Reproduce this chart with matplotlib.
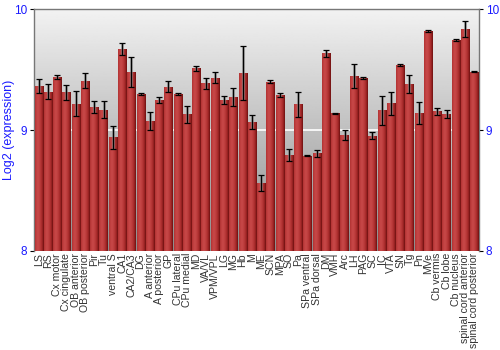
"""Bar chart of log2 expression per brain region, with error bars."""

import matplotlib
matplotlib.use("Agg")
import matplotlib.pyplot as plt
from matplotlib.colors import LinearSegmentedColormap
import numpy as np

plt.rcParams["font.family"] = ["Liberation Sans", "DejaVu Sans"]

regions = [
    "LS", "RS", "Cx motor", "Cx cingulate", "OB anterior", "OB posterior",
    "Pir", "Tu", "ventral S", "CA1", "CA2/CA3", "DG", "A anterior",
    "A posterior", "GP", "CPu lateral", "CPu medial", "MD", "VA/VL",
    "VPM/VPL", "LG", "MG", "Hb", "M", "ME", "SCN", "MPA", "SO", "Pa",
    "SPa ventral", "SPa dorsal", "DM", "VMH", "Arc", "LH", "PAG", "SC", "IC",
    "VTA", "SN", "Tg", "Pn", "MVe", "Cb vermis", "Cb lobe", "Cb nucleus",
    "spinal cord anterior", "spinal cord posterior",
]
expression = [
    9.364, 9.317, 9.438, 9.314, 9.22, 9.41,
    9.19, 9.17, 8.94, 9.67, 9.48, 9.30, 9.074,
    9.248, 9.36, 9.298, 9.13, 9.512, 9.388,
    9.435, 9.248, 9.273, 9.474, 9.066, 8.565, 9.40, 9.292, 8.793, 9.212,
    8.788, 8.807, 9.636, 9.138, 8.959, 9.449, 9.430, 8.953, 9.163,
    9.223, 9.54, 9.38, 9.143, 9.818, 9.154, 9.135, 9.744,
    9.837, 9.482,
]
errors = [
    0.058, 0.063, 0.014, 0.062, 0.10, 0.06,
    0.048, 0.07, 0.094, 0.05, 0.124, 0.01, 0.077,
    0.023, 0.045, 0.005, 0.072, 0.019, 0.045,
    0.048, 0.03, 0.077, 0.222, 0.055, 0.066, 0.011, 0.019, 0.048, 0.10,
    0.005, 0.032, 0.028, 0.007, 0.041, 0.10, 0.011, 0.028, 0.121,
    0.095, 0.008, 0.073, 0.091, 0.008, 0.026, 0.033, 0.006,
    0.069, 0.003,
]

ymin, ymax = 8, 10
blue = "#1a1aff"

fig = plt.figure(figsize=(5, 3.5), dpi=100)
ax = fig.add_axes([0.068, 0.283, 0.89, 0.6906])

x = np.arange(len(regions))
ax.set_xlim(-0.5, len(regions) - 0.5)
ax.set_ylim(ymin, ymax)

# grey vertical gradient background
bg = np.linspace(0.55, 0.95, 256).reshape(-1, 1)
ax.imshow(bg, cmap="gray", vmin=0, vmax=1, aspect="auto", origin="lower",
          extent=(-0.5, len(regions) - 0.5, ymin, ymax), zorder=0)
ax.axhline(9, color="white", linewidth=1.2, zorder=1)

bars = ax.bar(x, np.array(expression) - ymin, bottom=ymin, width=0.88,
              color="#b03535", linewidth=0, zorder=2)

# horizontal shading across each bar
bar_cmap = LinearSegmentedColormap.from_list("bar", ["#6e1010", "#a82a2a", "#c84848"])
shade = np.array([[0.72, 0.80, 0.84, 0.82, 0.76, 0.68, 0.58, 0.45]])
for rect in bars:
    x0 = rect.get_x()
    im = ax.imshow(shade, cmap=bar_cmap, vmin=0.4, vmax=0.85, aspect="auto",
                   extent=(x0, x0 + rect.get_width(), ymin, rect.get_y() + rect.get_height()),
                   zorder=3, interpolation="bilinear")
    im.set_clip_path(rect)

ax.errorbar(x, expression, yerr=errors, fmt="none", ecolor="#888888",
            elinewidth=2.2, capsize=0, alpha=0.6, zorder=4)
ax.errorbar(x, expression, yerr=errors, fmt="none", ecolor="black",
            elinewidth=0.9, capsize=2.2, capthick=0.9, zorder=5)

ax.set_xticks(x)
ax.set_xticklabels(regions, rotation=90, fontsize=7.6, color="#333333")
ax.tick_params(axis="x", length=0, pad=1.5)

ax.set_yticks([8, 9, 10])
ax.set_yticklabels(["8", "9", "10"])
ax.tick_params(axis="y", labelsize=8.5, labelcolor=blue, length=3, width=0.8,
               pad=2, left=True, right=True, labelleft=True, labelright=True)
fig.text(0.018, 0.63, "Log2 (expression)", color=blue, fontsize=9,
         rotation=90, ha="center", va="center")

for side in ["left", "top", "right"]:
    ax.spines[side].set_color("#777777")
    ax.spines[side].set_linewidth(1)
ax.spines["bottom"].set_visible(False)

fig.savefig("out.png", dpi=100)
